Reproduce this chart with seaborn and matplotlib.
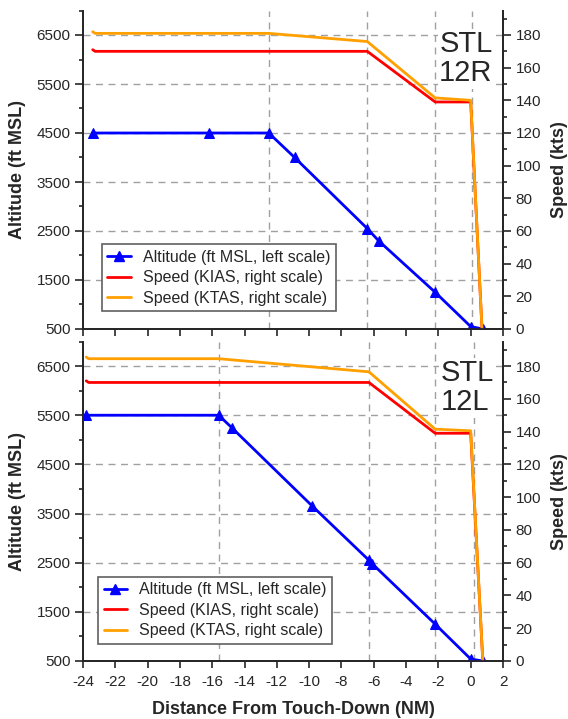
import matplotlib
matplotlib.use("Agg")
import matplotlib.pyplot as plt
import seaborn as sns
from matplotlib.lines import Line2D
from matplotlib.ticker import FixedLocator

sns.set_style("ticks")
plt.rcParams['font.family'] = ['Liberation Sans', 'DejaVu Sans']
plt.rcParams['axes.unicode_minus'] = False

# ---------------- data ----------------
# STL 12R (top panel)
alt_x_12R = [-23.4, -16.2, -12.5, -10.9, -6.4, -5.7, -2.2, 0.0, 0.75]
alt_12R = [4500, 4500, 4500, 4000, 2550, 2300, 1250, 550, 500]
spd_x_12R = [-23.4, -23.25, -12.5, -6.4, -2.2, 0.0, 0.7]
kias_12R = [171, 170, 170, 170, 139, 139, 0]
ktas_12R = [182, 181, 181, 176, 141.5, 140, 0]
vlines_12R = [-12.5, -6.4, -2.2, 0.05]

# STL 12L (bottom panel)
alt_x_12L = [-23.8, -15.6, -14.8, -9.8, -6.3, -6.1, -2.2, 0.0, 0.75]
alt_12L = [5500, 5500, 5250, 3650, 2550, 2480, 1250, 540, 500]
spd_x_12L = [-23.8, -23.65, -15.6, -6.3, -2.2, 0.0, 0.75]
kias_12L = [171, 170, 170, 170, 139, 139, 0]
ktas_12L = [185.5, 184.5, 184.5, 176.5, 141.5, 140.5, 0]
vlines_12L = [-15.6, -6.3, -2.2, 0.2]

alt_ticks = [500, 1500, 2500, 3500, 4500, 5500, 6500]
spd_ticks = [0, 20, 40, 60, 80, 100, 120, 140, 160, 180]
x_ticks = [-24, -22, -20, -18, -16, -14, -12, -10, -8, -6, -4, -2, 0, 2]

legend_labels = ["Altitude (ft MSL, left scale)", "Speed (KIAS, right scale)",
                 "Speed (KTAS, right scale)"]

BLUE = "#0000FF"
RED = "#FF0000"
ORANGE = "#FFA000"
GRID = "#A0A0A0"

fig = plt.figure(figsize=(5.68, 7.19), dpi=100)
W, H = 568.0, 719.0


def panel(top_px, bottom_px, alt_x, alt, spd_x, kias, ktas, vlines, name,
          text_x, text_y, leg_anchor, show_xlabels):
    rect = [83 / W, 1 - bottom_px / H, 420 / W, (bottom_px - top_px) / H]
    ax = fig.add_axes(rect)
    ax2 = ax.twinx()

    ax.set_xlim(-24, 2)
    ax.set_ylim(500, 7000)
    ax2.set_ylim(0, 195)

    ax.yaxis.set_major_locator(FixedLocator(alt_ticks))
    ax.yaxis.set_minor_locator(FixedLocator(list(range(1000, 7001, 1000))))
    ax2.yaxis.set_major_locator(FixedLocator(spd_ticks))
    ax2.yaxis.set_minor_locator(FixedLocator(list(range(10, 191, 20))))
    ax.xaxis.set_major_locator(FixedLocator(x_ticks))

    ax.yaxis.grid(True, which='major', linestyle=(0, (5, 4)), color=GRID, lw=1)
    for v in vlines:
        ax.axvline(v, linestyle=(0, (5, 4)), color=GRID, lw=1, zorder=1)

    sns.lineplot(x=alt_x, y=alt, ax=ax, color=BLUE, lw=2, marker='^',
                 markersize=7, markeredgecolor=BLUE, sort=False,
                 estimator=None, zorder=3)
    sns.lineplot(x=spd_x, y=kias, ax=ax2, color=RED, lw=2, sort=False,
                 estimator=None)
    sns.lineplot(x=spd_x, y=ktas, ax=ax2, color=ORANGE, lw=2, sort=False,
                 estimator=None)

    for a in (ax, ax2):
        a.spines['top'].set_visible(False)
        for s in a.spines.values():
            s.set_linewidth(1.3)
        a.set_xlabel("")
        a.set_ylabel("")
    ax.tick_params(axis='y', which='major', direction='out', length=6,
                   width=1.2, labelsize=11, pad=3)
    ax.tick_params(axis='y', which='minor', direction='out', length=3, width=1.2)
    ax2.tick_params(axis='y', which='major', direction='out', length=6,
                    width=1.2, labelsize=11, pad=3)
    ax2.tick_params(axis='y', which='minor', direction='out', length=3, width=1.2)
    ax.tick_params(axis='x', which='major', direction='out', length=5,
                   width=1.2, labelsize=11, labelbottom=show_xlabels, pad=5)

    ax.text(text_x, text_y, name, fontsize=21, ha='left', va='top',
            linespacing=1.05, zorder=2,
            bbox=dict(facecolor='white', edgecolor='none', pad=1))

    handles = [Line2D([], [], color=BLUE, lw=2, marker='^', markersize=7),
               Line2D([], [], color=RED, lw=2),
               Line2D([], [], color=ORANGE, lw=2)]
    leg = ax2.legend(handles, legend_labels, loc='upper left',
                     bbox_to_anchor=leg_anchor, borderaxespad=0,
                     fontsize=11.5, frameon=True, fancybox=False,
                     edgecolor='#606060', framealpha=1, handlelength=1.45,
                     labelspacing=0.35, borderpad=0.35, handletextpad=0.75)
    leg.get_frame().set_linewidth(1.2)

    cy = 1 - (top_px + bottom_px) / 2 / H
    fig.text(18 / W, cy, "Altitude (ft MSL)", rotation=90, ha='center',
             va='center', fontsize=13, fontweight='bold')
    fig.text(559 / W, cy, "Speed (kts)", rotation=90, ha='center',
             va='center', fontsize=13, fontweight='bold')
    return ax


panel(10.5, 329, alt_x_12R, alt_12R, spd_x_12R, kias_12R, ktas_12R,
      vlines_12R, "STL\n12R", -1.95, 6600, (0.045, 0.267), False)
panel(341.5, 661, alt_x_12L, alt_12L, spd_x_12L, kias_12L, ktas_12L,
      vlines_12L, "STL\n12L", -1.85, 6640, (0.036, 0.264), True)

fig.text(293 / W, 1 - 710 / H, "Distance From Touch-Down (NM)", ha='center',
         va='center', fontsize=13, fontweight='bold')

fig.savefig("out.png", dpi=100)
